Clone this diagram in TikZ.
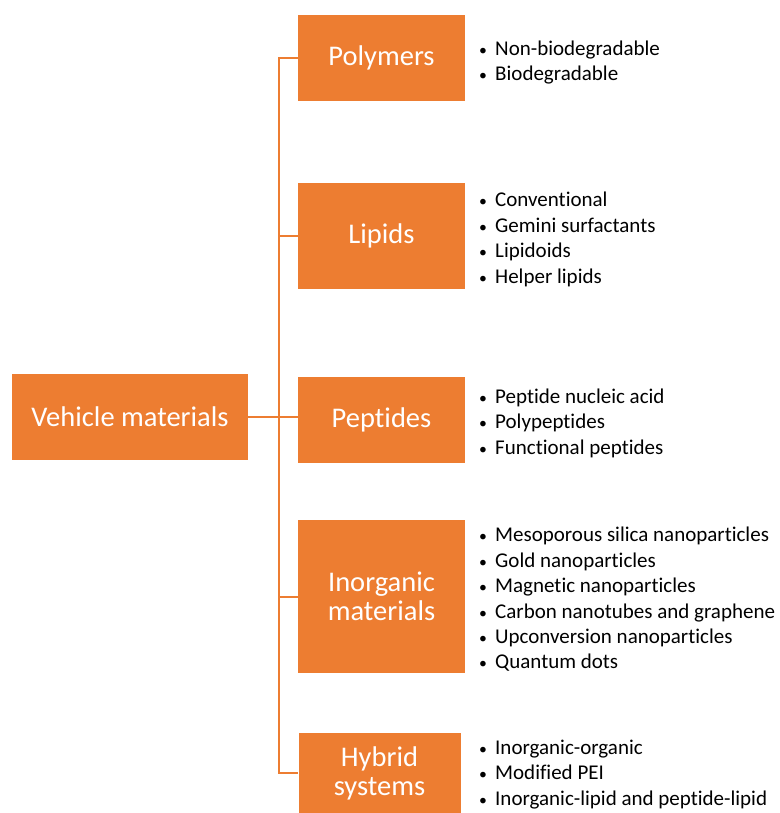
\documentclass[tikz,border=0pt]{standalone}
\usepackage{fontspec}
\setmainfont{Carlito}[Ligatures=NoCommon]
\definecolor{org}{HTML}{ED7D31}
\begin{document}
\begin{tikzpicture}[x=1pt,y=-1pt,
  box/.style={fill=org, draw=none, text=white, font=\fontsize{28.5}{29}\selectfont, align=center, inner sep=0pt},
  item/.style={anchor=base west, font=\fontsize{21}{25}\selectfont, inner sep=0pt},
  conn/.style={draw=org, line width=2pt}]
\useasboundingbox (0,0) rectangle (779,813);
\node[box, minimum width=236pt, minimum height=86pt] (veh) at (130,417) {Vehicle materials};
\node[box, minimum width=167pt, minimum height=86pt] (pol) at (381.5,58) {Polymers};
\node[box, minimum width=167pt, minimum height=106pt] (lip) at (381.5,236) {Lipids};
\node[box, minimum width=167pt, minimum height=86pt] (pep) at (381.5,420) {Peptides};
\node[box, minimum width=167pt, minimum height=153pt] (ino) at (381.5,596.5) {Inorganic\\materials};
\node[box, minimum width=162pt, minimum height=80pt] (hyb) at (379.5,773) {Hybrid\\systems};
\coordinate (bus) at (279,0);
\draw[conn] (pol.west) -- (pol.west -| bus) -- (hyb.west -| bus) -- (hyb.west);
\draw[conn] (lip.west) -- (lip.west -| bus);
\draw[conn] (ino.west) -- (ino.west -| bus);
\draw[conn] (veh.east) -- (veh.east -| pep.west);
\newcommand{\bitem}[1]{\makebox[16pt][l]{\scalebox{0.75}{\textbullet}}#1}
% Polymers
\node[item] (p1) at (479,56) {\bitem{Non-biodegradable}};
\node[item] (p2) at (479,81) {\bitem{Biodegradable}};
% Lipids
\node[item] (l1) at (479,206) {\bitem{Conventional}};
\node[item] (l2) at (479,232) {\bitem{Gemini surfactants}};
\node[item] (l3) at (479,257) {\bitem{Lipidoids}};
\node[item] (l4) at (479,283) {\bitem{Helper lipids}};
% Peptides
\node[item] (e1) at (479,403) {\bitem{Peptide nucleic acid}};
\node[item] (e2) at (479,428) {\bitem{Polypeptides}};
\node[item] (e3) at (479,454) {\bitem{Functional peptides}};
% Inorganic
\node[item] (i1) at (479,541) {\bitem{Mesoporous silica nanoparticles}};
\node[item] (i2) at (479,567) {\bitem{Gold nanoparticles}};
\node[item] (i3) at (479,592) {\bitem{Magnetic nanoparticles}};
\node[item] (i4) at (479,618) {\bitem{Carbon nanotubes and graphene}};
\node[item] (i5) at (479,643) {\bitem{Upconversion nanoparticles}};
\node[item] (i6) at (479,668) {\bitem{Quantum dots}};
% Hybrid
\node[item] (h1) at (479,754) {\bitem{Inorganic-organic}};
\node[item] (h2) at (479,779) {\bitem{Modified PEI}};
\node[item] (h3) at (479,805) {\bitem{Inorganic-lipid and peptide-lipid}};
\end{tikzpicture}
\end{document}
